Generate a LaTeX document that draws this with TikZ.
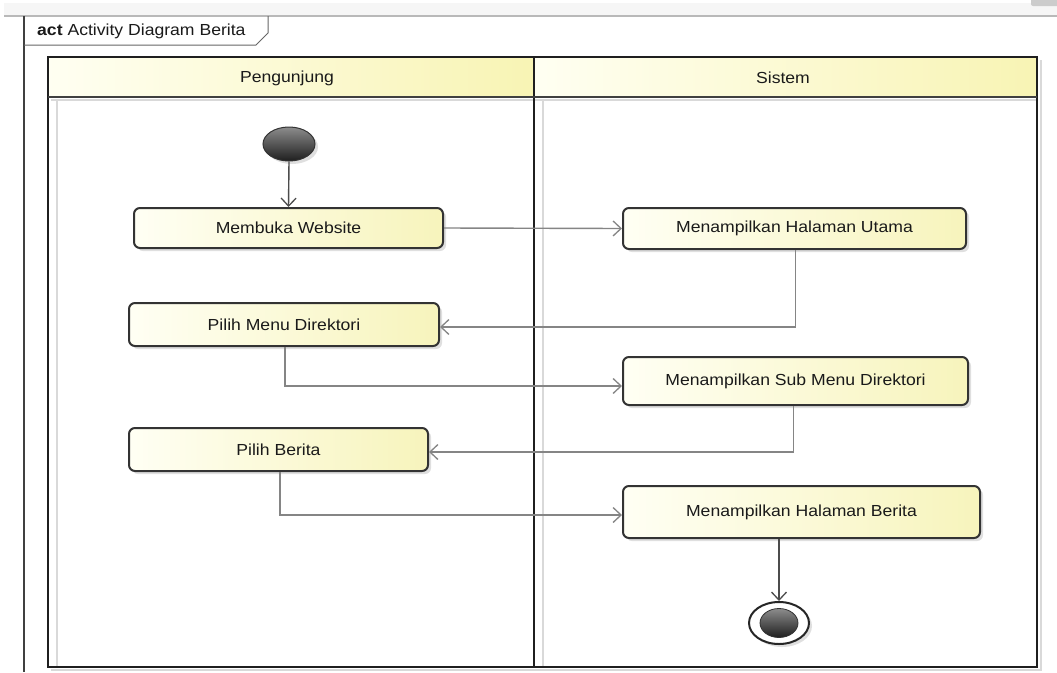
\documentclass[tikz,border=0pt]{standalone}
\usepackage{fontspec}
\newfontfamily\diagfont[FakeStretch=1.1]{Liberation Sans}
\usetikzlibrary{shadows,arrows.meta,shapes.geometric}
\definecolor{boxL}{HTML}{FFFFF4}
\definecolor{boxR}{HTML}{F7F4BC}
\definecolor{hdrL}{HTML}{FFFFF2}
\definecolor{hdrR}{HTML}{F8F4B4}
\definecolor{txt}{HTML}{1A1A1A}
\definecolor{conncol}{HTML}{858585}
\begin{document}
\begin{tikzpicture}[x=1pt,y=-1pt,
  dtext/.style={font=\diagfont\fontsize{16}{19}\selectfont, text=txt},
  action/.style={dtext, rectangle, rounded corners=6pt, draw=black!80, line width=2pt,
    left color=boxL, right color=boxR, inner sep=0pt,
    drop shadow={shadow xshift=3pt, shadow yshift=-3pt, opacity=0.25}},
  lanehdr/.style={dtext},
  conn/.style={draw=conncol, line width=1.4pt, -{Straight Barb[length=8pt,width=15pt,line width=1.3pt]}},
  startnode/.style={ellipse, draw=black!80, line width=1pt, top color=black!45, bottom color=black!88,
    minimum width=52pt, minimum height=34pt, inner sep=0pt,
    drop shadow={shadow xshift=3pt, shadow yshift=-3pt, opacity=0.25}},
  endouter/.style={ellipse, draw=black!85, line width=2pt, fill=white,
    minimum width=60pt, minimum height=42pt, inner sep=0pt,
    drop shadow={shadow xshift=3pt, shadow yshift=-3pt, opacity=0.25}},
  endinner/.style={ellipse, draw=black!80, line width=0.8pt, top color=black!45, bottom color=black!88,
    minimum width=38pt, minimum height=29pt, inner sep=0pt},
  lanebold/.style={draw=black!88, line width=2.6pt},
  laneshade/.style={draw=gray!30, line width=1.2pt}
]
\useasboundingbox (0,0) rectangle (1057,672);
\fill[white] (0,0) rectangle (1057,672);
% window band at top
\fill[gray!7] (4,3) rectangle (1057,15);
\draw[gray!55, line width=1.5pt] (4,16) -- (1057,16);
\fill[gray!40, rounded corners=2pt] (1031,-4) rectangle (1061,6);

% frame
\draw[black!75, line width=1.3pt] (24,16) -- (24,672);
\draw[black!60, line width=1pt] (24,45) -- (256,45) -- (268,33) -- (268,16);
\node[dtext, anchor=west, inner sep=0pt] (title) at (37,31) {\textbf{act} Activity Diagram Berita};

% swimlanes
\shade[left color=hdrL, right color=hdrR] (48,57) rectangle (534,97);
\shade[left color=hdrL, right color=hdrR] (534,57) rectangle (1037,97);
\draw[laneshade] (57,100) -- (57,666);
\draw[laneshade] (543,100) -- (543,666);
\draw[laneshade] (51,100) -- (1037,100);
\draw[laneshade] (1041,60) -- (1041,670) -- (51,670);
\draw[lanebold] (48,57) rectangle (1037,667);
\draw[lanebold] (534,57) -- (534,667);
\draw[draw=black!75, line width=2.2pt] (48,97) -- (1037,97);
\node[lanehdr] (hpeng) at (287,78) {Pengunjung};
\node[lanehdr] (hsis) at (783,78) {Sistem};

% activity nodes
\node[startnode] (start) at (289,144) {};
\node[action, minimum width=309pt, minimum height=40pt] (membuka) at (288.5,228) {Membuka Website};
\node[action, minimum width=343pt, minimum height=41pt] (utama) at (794.5,228.5) {Menampilkan Halaman Utama};
\node[action, minimum width=310pt, minimum height=43pt] (menu) at (284,324.5) {Pilih Menu Direktori};
\node[action, minimum width=345pt, minimum height=48pt] (sub) at (795.5,381) {Menampilkan Sub Menu Direktori};
\node[action, minimum width=299pt, minimum height=43pt] (berita) at (278.5,449.5) {Pilih Berita};
\node[action, minimum width=357pt, minimum height=52pt] (hberita) at (801.5,512) {Menampilkan Halaman Berita};
\node[endouter] (final) at (779,623) {};
\node[endinner] (finalin) at (final.center) {};

% connectors
\draw[conn, draw=black!70] (start.south) -- (membuka.north);
\draw[conn] (membuka.east) -- (utama.west);
\draw[conn] ([xshift=1pt]utama.south) |- ([yshift=-2.5pt]menu.east);
\draw[conn] ([xshift=1pt]menu.south) |- ([yshift=-5pt]sub.west);
\draw[conn] ([xshift=-2pt]sub.south) |- ([yshift=-2.5pt]berita.east);
\draw[conn] ([xshift=1.5pt]berita.south) |- ([yshift=-3pt]hberita.west);
\draw[conn, draw=black!70] (hberita.south -| final.north) -- (final.north);
\end{tikzpicture}
\end{document}
